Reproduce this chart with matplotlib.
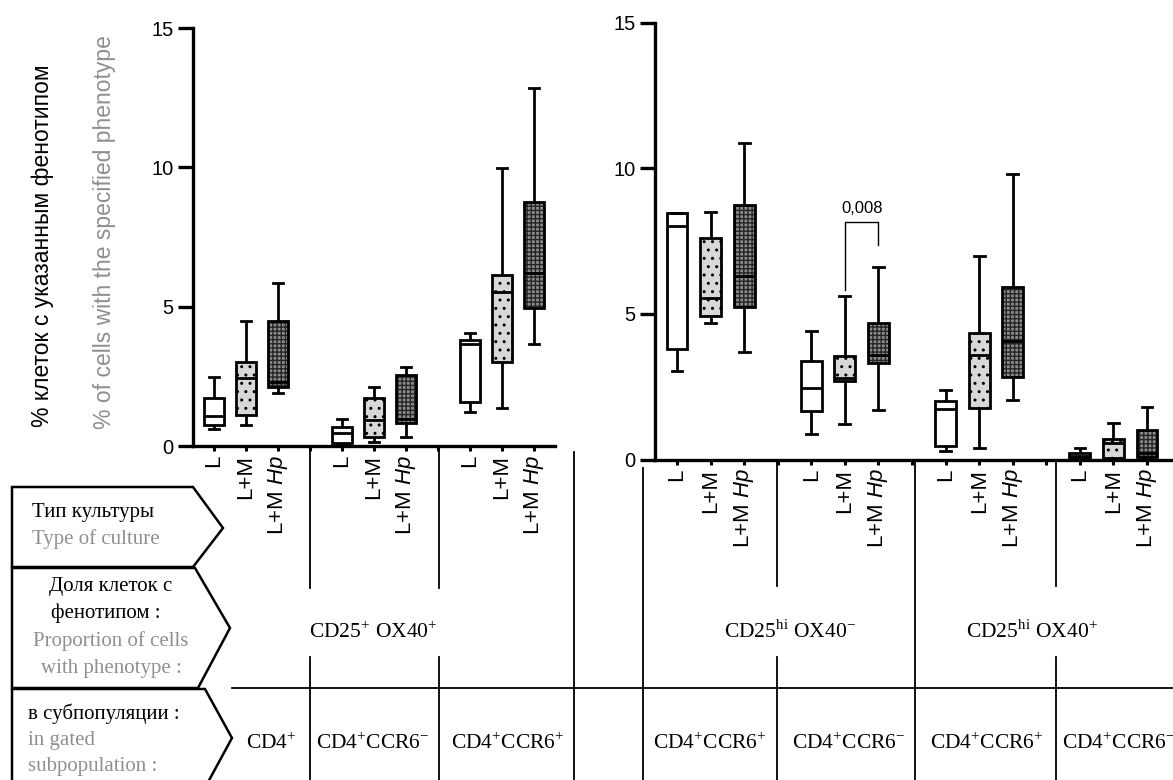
import matplotlib
matplotlib.use("Agg")
import matplotlib.pyplot as plt
from matplotlib.patches import Polygon, PathPatch

W, H = 1173, 780

CULTURES = ["L", "L+M", "L+M $\\mathit{Hp}$"]
PHENOTYPES = ["CD25$^{+}$ OX40$^{+}$", "CD25$^{\\mathrm{hi}}$ OX40$^{-}$", "CD25$^{\\mathrm{hi}}$ OX40$^{+}$"]
LEFT_SUBPOPS = ["CD4$^{+}$", "CD4$^{+}$CCR6$^{-}$", "CD4$^{+}$CCR6$^{+}$"]
RIGHT_SUBPOPS = ["CD4$^{+}$CCR6$^{+}$", "CD4$^{+}$CCR6$^{-}$", "CD4$^{+}$CCR6$^{+}$", "CD4$^{+}$CCR6$^{-}$"]

# left panel: CD25+ OX40+ in CD4+, CD4+CCR6-, CD4+CCR6+ (L, L+M, L+M Hp each)
LEFT_WHISHI = [2.48, 4.47, 5.86, 0.97, 2.10, 2.82, 4.07, 9.98, 12.85]
LEFT_Q3 = [1.72, 3.02, 4.47, 0.67, 1.74, 2.54, 3.80, 6.15, 8.77]
LEFT_MED = [1.07, 2.44, 2.28, 0.47, 0.95, 0.97, 3.65, 5.51, 6.20]
LEFT_Q1 = [0.76, 1.13, 2.12, 0.10, 0.31, 0.81, 1.57, 3.01, 4.97]
LEFT_WHISLO = [0.61, 0.76, 1.91, 0.05, 0.13, 0.31, 1.21, 1.36, 3.67]

# right panel: CD25hi OX40- (CCR6+, CCR6-), CD25hi OX40+ (CCR6+, CCR6-)
RIGHT_WHISHI = [8.46, 8.48, 10.87, 4.40, 5.60, 6.61, 2.40, 6.97, 9.79, 0.38, 1.24, 1.79]
RIGHT_Q3 = [8.45, 7.62, 8.73, 3.38, 3.54, 4.68, 2.02, 4.35, 5.92, 0.24, 0.72, 1.00]
RIGHT_MED = [8.03, 5.54, 6.30, 2.45, 2.80, 3.58, 1.73, 3.57, 4.06, 0.12, 0.58, 0.24]
RIGHT_Q1 = [3.78, 4.94, 5.23, 1.66, 2.69, 3.31, 0.47, 1.77, 2.82, 0.04, 0.05, 0.10]
RIGHT_WHISLO = [3.04, 4.68, 3.68, 0.87, 1.23, 1.69, 0.28, 0.39, 2.04, 0.00, 0.00, 0.02]

# significance bracket (right panel, CD4+CCR6- : L+M vs L+M Hp)
P_LABEL = "0,008"
P_PAIR = (4, 5)
P_BRACKET_Y = [5.83, 8.16, 8.16, 7.36]

Y_TICKS = [0, 5, 10, 15]

plt.rcParams.update({
    "font.family": "Liberation Sans",
    "mathtext.fontset": "custom",
    "mathtext.rm": "Liberation Serif",
    "mathtext.it": "Liberation Sans:italic",
    "hatch.linewidth": 1.0,
})

DOT_FILL = "#d8d8d8"
CHECK_FILL = "#8c8c8c"
CHECK_LINE = "#262626"
GREY_TXT = "#8f8f8f"
LW = 2.0


def px_axes(fig, left, top, right, bottom):
    return fig.add_axes([left / W, 1 - bottom / H, (right - left) / W, (bottom - top) / H])


def draw_panel(ax, whislo, q1, med, q3, whishi):
    n_groups = len(med) // 3
    pos = [g * 4 + c for g in range(n_groups) for c in range(3)]
    stats = [dict(whislo=a, q1=b, med=c, q3=d, whishi=e)
             for a, b, c, d, e in zip(whislo, q1, med, q3, whishi)]
    art = ax.bxp(stats, positions=pos, widths=0.62, capwidths=0.32,
                 patch_artist=True, showfliers=False, manage_ticks=False,
                 boxprops=dict(linewidth=LW, edgecolor="k"),
                 whiskerprops=dict(linewidth=LW, color="k", solid_capstyle="butt"),
                 capprops=dict(linewidth=LW, color="k"),
                 medianprops=dict(linewidth=LW, color="k", solid_capstyle="butt"))
    for i, box in enumerate(art["boxes"]):
        kind = i % 3
        if kind == 0:
            box.set_facecolor("white")
        elif kind == 1:
            box.set_facecolor(DOT_FILL)
            box.set_hatch("..")
        else:
            box.set_facecolor(CHECK_FILL)
            box.set_edgecolor(CHECK_LINE)
            box.set_linewidth(0)
            box.set_hatch("++++")
            ax.add_patch(PathPatch(box.get_path(), fill=False, ec="k", lw=LW,
                                   zorder=box.get_zorder() + 0.05))

    ax.set_ylim(0, 15)
    ax.set_yticks(Y_TICKS)
    ax.set_xticks(pos, CULTURES * n_groups, rotation=90)
    ax.set_xticks([g * 4 + 3 for g in range(n_groups - 1)], minor=True)
    for side in ("top", "right"):
        ax.spines[side].set_visible(False)
    for side in ("left", "bottom"):
        ax.spines[side].set_linewidth(2.4)
    ax.tick_params(axis="y", length=10.5, width=2.4, pad=3.5, labelsize=14.5)
    ax.tick_params(axis="x", which="both", length=3.5, width=2.2, pad=3, labelsize=16)
    ax.patch.set_alpha(0)
    return pos


fig = plt.figure(figsize=(W / 100, H / 100), dpi=100)

ax_l = px_axes(fig, 193, 28, 555, 446)
draw_panel(ax_l, LEFT_WHISLO, LEFT_Q1, LEFT_MED, LEFT_Q3, LEFT_WHISHI)
ax_l.set_xlim(-0.66, 10.66)

ax_r = px_axes(fig, 655, 22.5, 1190, 459.5)
pos_r = draw_panel(ax_r, RIGHT_WHISLO, RIGHT_Q1, RIGHT_MED, RIGHT_Q3, RIGHT_WHISHI)
ax_r.set_xlim(-0.655, 15.28)

xa, xb = pos_r[P_PAIR[0]], pos_r[P_PAIR[1]]
ax_r.plot([xa, xa, xb, xb], P_BRACKET_Y, color="k", lw=1.0)
ax_r.text((xa + xb) / 2, P_BRACKET_Y[1] + 0.2, P_LABEL, ha="center", va="bottom", fontsize=12)

fig.text(43 / W, 1 - 246 / H, "% клеток с указанным фенотипом", rotation=90,
         ha="center", va="center", fontsize=16.5, color="k")
fig.text(105 / W, 1 - 232 / H, "% of cells with the specified phenotype", rotation=90,
         ha="center", va="center", fontsize=16.5, color=GREY_TXT)

# table under the plots, drawn in pixel coordinates
tb = fig.add_axes([0, 0, 1, 1], zorder=5)
tb.set_xlim(0, W)
tb.set_ylim(H, 0)
tb.axis("off")

arrows = [
    [(12, 487), (193, 487), (223, 528), (193, 567), (12, 567)],
    [(12, 568), (195, 568), (230, 628), (198, 688), (12, 688)],
    [(12, 689), (205, 689), (232, 738), (207, 784), (12, 784)],
]
for pts in arrows:
    tb.add_patch(Polygon(pts, closed=True, fill=False, ec="k", lw=1.8, joinstyle="miter"))

tb.plot([232, W], [688, 688], color="k", lw=1.3)
segments = [
    (310, 448, 588), (310, 657, 780), (439, 448, 588), (439, 657, 780),
    (574, 452, 780), (643, 468, 780), (777, 461, 586), (777, 657, 780),
    (915, 461, 780), (1056, 461, 586), (1056, 657, 780),
]
for x, y0, y1 in segments:
    tb.plot([x, x], [y0, y1], color="k", lw=1.3)

SERIF = "Liberation Serif"
FS = 15
FSB = 15.5
tb.text(32, 513, "Тип культуры", family=SERIF, fontsize=FS, va="center", ha="left")
tb.text(32, 539, "Type of culture", family=SERIF, fontsize=FS, va="center", ha="left", color=GREY_TXT)
tb.text(111, 587, "Доля клеток с", family=SERIF, fontsize=FS, va="center", ha="center")
tb.text(106, 613, "фенотипом :", family=SERIF, fontsize=FS, va="center", ha="center")
tb.text(111, 641, "Proportion of cells", family=SERIF, fontsize=FS, va="center", ha="center", color=GREY_TXT)
tb.text(111, 669, "with phenotype :", family=SERIF, fontsize=FS, va="center", ha="center", color=GREY_TXT)
tb.text(28, 714, "в субпопуляции :", family=SERIF, fontsize=FS, va="center", ha="left")
tb.text(28, 741, "in gated", family=SERIF, fontsize=FS, va="center", ha="left", color=GREY_TXT)
tb.text(28, 767, "subpopulation :", family=SERIF, fontsize=FS, va="center", ha="left", color=GREY_TXT)

for x, label in zip([373, 790, 1032], PHENOTYPES):
    tb.text(x, 632, label, family=SERIF, fontsize=FSB, va="center", ha="center")
for x, label in zip([271, 373, 508], LEFT_SUBPOPS):
    tb.text(x, 743, label, family=SERIF, fontsize=FSB, va="center", ha="center")
for x, label in zip([710, 849, 987], RIGHT_SUBPOPS[:3]):
    tb.text(x, 743, label, family=SERIF, fontsize=FSB, va="center", ha="center")
tb.text(1062, 743, RIGHT_SUBPOPS[3], family=SERIF, fontsize=FSB, va="center", ha="left")

fig.savefig("out.png", dpi=100)
